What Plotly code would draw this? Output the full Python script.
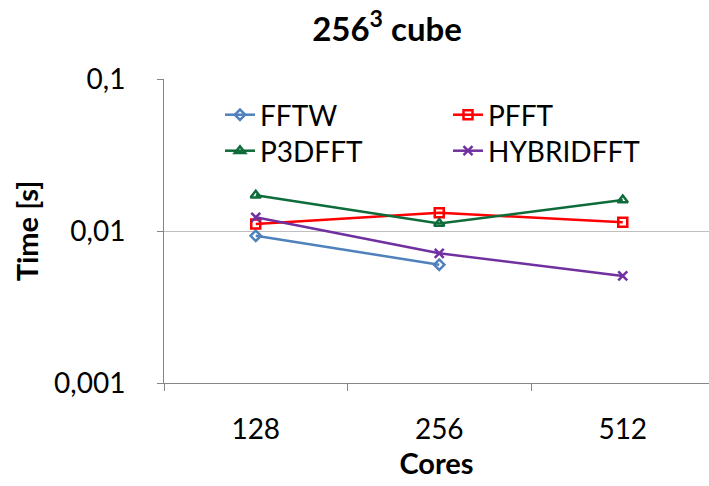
import plotly.graph_objects as go

cores = ["128", "256", "512"]
fftw = [0.0093, 0.0060, None]
pfft = [0.0111, 0.0132, 0.0114]
p3dfft = [0.0172, 0.0112, 0.0160]
hybrid = [0.0123, 0.00713, 0.00506]

y_tickvals = [0.001, 0.01, 0.1]
y_ticktext = ["0,001", "0,01", "0,1"]

FONT = "Lato, 'Open Sans', sans-serif"

series = [
    ("FFTW", fftw, "#4F81BD", "diamond-open", 8, "legend"),
    ("PFFT", pfft, "#FF0000", "square-open", 9, "legend2"),
    ("P3DFFT", p3dfft, "#0E6B3A", "triangle-up-open", 9, "legend3"),
    ("HYBRIDFFT", hybrid, "#7030A0", "x-thin-open", 9, "legend4"),
]

fig = go.Figure()
for name, vals, color, sym, size, leg in series:
    fig.add_trace(go.Scatter(
        x=cores, y=vals, name=name, mode="lines+markers",
        line=dict(color=color, width=2.5),
        marker=dict(symbol=sym, size=size, color=color,
                    line=dict(color=color, width=2.5)),
        legend=leg,
    ))

PLOT_W, PLOT_H, L, T = 545, 304, 164, 79


def leg_pos(px, py):
    return dict(x=(px - L) / PLOT_W, y=1 - (py - T) / PLOT_H,
                xanchor="left", yanchor="middle",
                bgcolor="rgba(0,0,0,0)", font=dict(size=28))


fig.update_layout(
    width=709, height=486,
    margin=dict(l=L, r=0, t=T, b=103),
    paper_bgcolor="white", plot_bgcolor="white",
    font=dict(family=FONT, size=28, color="#000000"),
    title=dict(text="<b>256<sup>3</sup> cube</b>", x=387/709, xanchor="center",
               y=1 - 29/486, yanchor="middle", xref="container", yref="container",
               font=dict(size=33)),
    showlegend=True,
    legend=leg_pos(220, 115),
    legend2=leg_pos(448, 115),
    legend3=leg_pos(220, 151),
    legend4=leg_pos(448, 151),
)

fig.update_xaxes(
    type="category", range=[-0.5, 2.47],
    showline=True, linecolor="#868686", linewidth=1,
    ticks="outside", tickson="boundaries", ticklen=7, tickcolor="#868686",
    showgrid=False, zeroline=False,
    ticklabelstandoff=21,
    tickfont=dict(size=28),
    title=dict(text="<b>Cores</b>", font=dict(size=29), standoff=7),
)
fig.update_yaxes(
    type="log", range=[-3, -1],
    tickvals=y_tickvals, ticktext=y_ticktext,
    showline=True, linecolor="#868686", linewidth=1,
    ticks="outside", ticklen=6, tickcolor="#868686",
    showgrid=True, gridcolor="#BFBFBF", gridwidth=1,
    zeroline=False,
    ticklabelstandoff=26,
    tickfont=dict(size=28),
    title=dict(text="<b>Time [s]</b>", font=dict(size=29), standoff=6),
)

fig.write_html("out.html")
